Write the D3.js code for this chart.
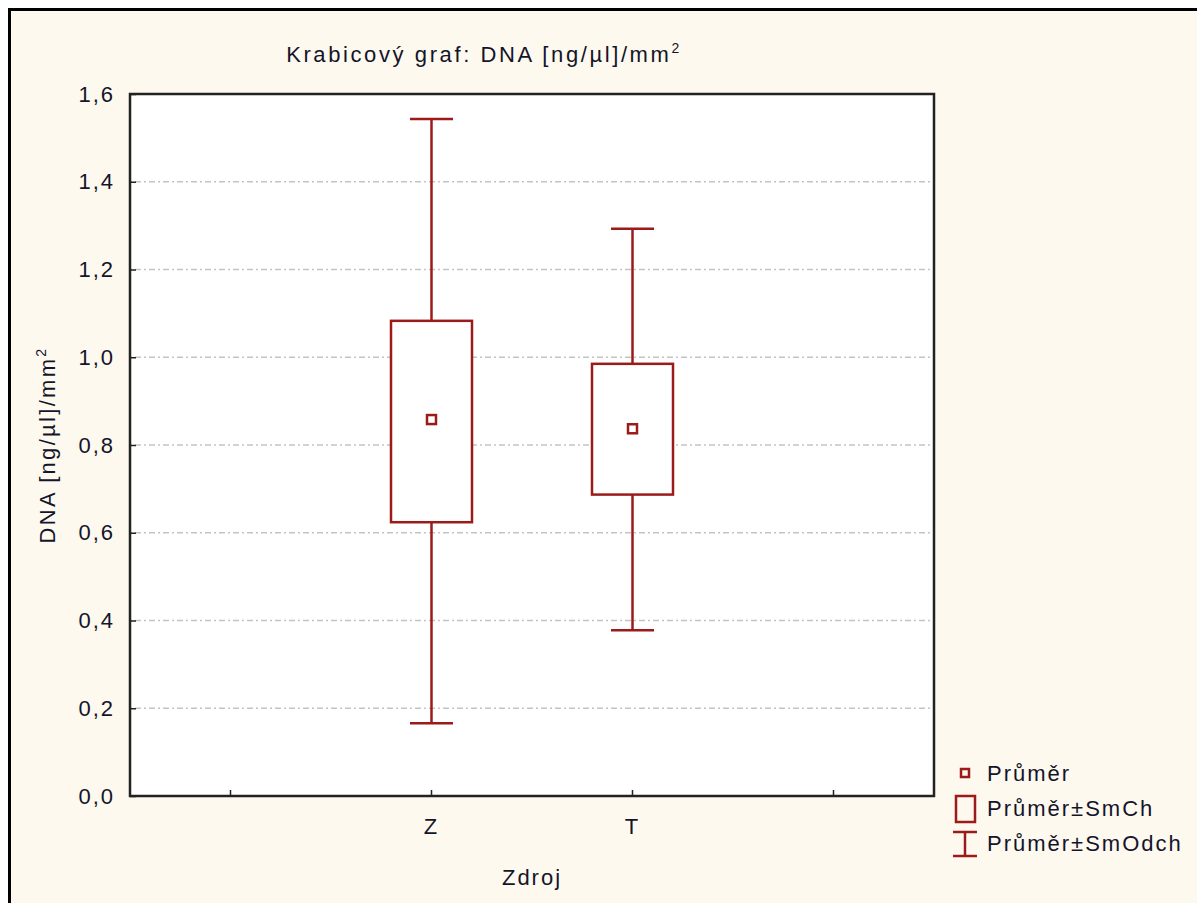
<!DOCTYPE html>
<html>
<head>
<meta charset="utf-8">
<script src="https://cdn.jsdelivr.net/npm/d3@7"></script>
<style>
  body { margin: 0; background: #fff; }
  text { font-family: "Liberation Sans", Arial, sans-serif; font-size: 22px; letter-spacing: 2px; fill: #14142a; }
</style>
</head>
<body>
<svg id="chart"></svg>
<script>
// data
const slots = ["left", "Z", "T", "right"];
const groups = ["Z", "T"];
const means = [0.858, 0.837];
const seLow = [0.624, 0.687];
const seHigh = [1.083, 0.985];
const sdLow = [0.166, 0.378];
const sdHigh = [1.543, 1.293];
const yTicks = [0, 0.2, 0.4, 0.6, 0.8, 1.0, 1.2, 1.4, 1.6];
const legendItems = ["Průměr", "Průměr±SmCh", "Průměr±SmOdch"];

const W = 1197, H = 903;
const margin = { top: 94, right: 263, bottom: 107, left: 130 };
const width = W - margin.left - margin.right;
const height = H - margin.top - margin.bottom;
const red = "#9b1b1b";

const svg = d3.select("#chart").attr("width", W).attr("height", H);

// outer frame
svg.append("rect")
  .attr("x", 9.5).attr("y", 9.5)
  .attr("width", W + 20).attr("height", H + 20)
  .attr("fill", "#fef9ee")
  .attr("stroke", "#000").attr("stroke-width", 3);

const g = svg.append("g").attr("transform", `translate(${margin.left},${margin.top})`);

const x = d3.scaleBand().domain(slots).range([0, width]);
const y = d3.scaleLinear().domain([0, 1.6]).range([height, 0]);

g.append("rect")
  .attr("width", width).attr("height", height)
  .attr("fill", "#fff");

// grid
g.append("g").selectAll("line")
  .data(yTicks.filter(d => d > 0 && d < 1.6))
  .join("line")
  .attr("x1", 0).attr("x2", width)
  .attr("y1", d => y(d)).attr("y2", d => y(d))
  .attr("stroke", "#c4c4c4")
  .attr("stroke-width", 1.5)
  .attr("stroke-dasharray", "2,3,6,3");

// axes
const yAxis = g.append("g")
  .call(d3.axisLeft(y).tickValues(yTicks).tickSizeInner(-6).tickSizeOuter(0).tickPadding(15)
    .tickFormat(d => d3.format(".1f")(d).replace(".", ",")));
yAxis.select(".domain").remove();
yAxis.selectAll("line").attr("stroke", "#222").attr("stroke-width", 1.5);
yAxis.selectAll("text").style("font-size", "22px").attr("fill", "#14142a");

const xAxis = g.append("g")
  .attr("transform", `translate(0,${height})`)
  .call(d3.axisBottom(x).tickSizeInner(-6).tickSizeOuter(0).tickPadding(22)
    .tickFormat(d => groups.includes(d) ? d : ""));
xAxis.select(".domain").remove();
xAxis.selectAll("line").attr("stroke", "#222").attr("stroke-width", 1.5);
xAxis.selectAll("text").style("font-size", "22px").attr("fill", "#14142a");

// plot frame
g.append("rect")
  .attr("width", width).attr("height", height)
  .attr("fill", "none")
  .attr("stroke", "#222").attr("stroke-width", 2.5);

// boxes
const boxW = 81, capW = 43, meanS = 9;
const items = g.append("g").selectAll("g")
  .data(groups.map((k, i) => ({ k, mean: means[i], lo: seLow[i], hi: seHigh[i], min: sdLow[i], max: sdHigh[i] })))
  .join("g")
  .attr("transform", d => `translate(${x(d.k) + x.bandwidth() / 2},0)`);

items.append("line")
  .attr("x1", 0).attr("x2", 0)
  .attr("y1", d => y(d.max)).attr("y2", d => y(d.min))
  .attr("stroke", red).attr("stroke-width", 2.5);
items.append("line")
  .attr("x1", -capW / 2).attr("x2", capW / 2)
  .attr("y1", d => y(d.max)).attr("y2", d => y(d.max))
  .attr("stroke", red).attr("stroke-width", 2.5);
items.append("line")
  .attr("x1", -capW / 2).attr("x2", capW / 2)
  .attr("y1", d => y(d.min)).attr("y2", d => y(d.min))
  .attr("stroke", red).attr("stroke-width", 2.5);
items.append("rect")
  .attr("x", -boxW / 2).attr("width", boxW)
  .attr("y", d => y(d.hi)).attr("height", d => y(d.lo) - y(d.hi))
  .attr("fill", "#fff").attr("stroke", red).attr("stroke-width", 2.5);
items.append("rect")
  .attr("x", -meanS / 2).attr("y", d => y(d.mean) - meanS / 2)
  .attr("width", meanS).attr("height", meanS)
  .attr("fill", "#fff").attr("stroke", red).attr("stroke-width", 2.5);

// title
const title = svg.append("text")
  .attr("x", 484).attr("y", 62)
  .attr("text-anchor", "middle")
  .style("letter-spacing", "2.6px");
title.append("tspan").text("Krabicový graf:  DNA [ng/µl]/mm");
title.append("tspan").text("2").attr("dy", -9).style("font-size", "14px");

// axis titles
svg.append("text")
  .attr("x", margin.left + width / 2).attr("y", 885)
  .attr("text-anchor", "middle")
  .text("Zdroj");

const ylab = svg.append("text")
  .attr("transform", `translate(55,${margin.top + height / 2}) rotate(-90)`)
  .attr("text-anchor", "middle")
  .style("letter-spacing", "2.3px");
ylab.append("tspan").text("DNA [ng/µl]/mm");
ylab.append("tspan").text("2").attr("dy", -9).style("font-size", "14px");

// legend
const leg = svg.append("g").attr("transform", "translate(965,0)");
leg.append("rect").attr("x", -4).attr("y", 769).attr("width", 8).attr("height", 8)
  .attr("fill", "none").attr("stroke", red).attr("stroke-width", 2.5);
leg.append("rect").attr("x", -9).attr("y", 796).attr("width", 19).attr("height", 26)
  .attr("fill", "none").attr("stroke", red).attr("stroke-width", 2.5);
leg.append("line").attr("x1", -12).attr("x2", 12).attr("y1", 832).attr("y2", 832)
  .attr("stroke", red).attr("stroke-width", 2.5);
leg.append("line").attr("x1", -12).attr("x2", 12).attr("y1", 856).attr("y2", 856)
  .attr("stroke", red).attr("stroke-width", 2.5);
leg.append("line").attr("x1", 0).attr("x2", 0).attr("y1", 832).attr("y2", 856)
  .attr("stroke", red).attr("stroke-width", 2.5);
leg.selectAll("text.lab")
  .data(legendItems)
  .join("text")
  .attr("class", "lab")
  .attr("x", 22)
  .attr("y", (d, i) => 781 + i * 35)
  .text(d => d);
</script>
</body>
</html>
